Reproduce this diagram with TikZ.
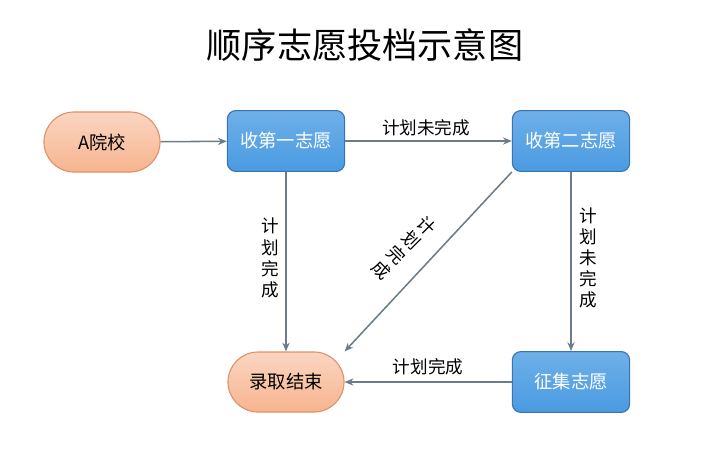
\documentclass[tikz,border=0pt]{standalone}
\usepackage{fontspec}
\setmainfont{Noto Sans CJK SC}
\usetikzlibrary{arrows.meta, positioning}
\definecolor{cblue}{HTML}{4A9BE2}
\definecolor{cbluedark}{HTML}{3B73B5}
\definecolor{cpeach}{HTML}{F7B48F}
\definecolor{corange}{HTML}{E0916C}
\definecolor{cgrey}{HTML}{6C7D88}
\tikzset{
  every picture/.style={line width=1.1pt},
  box/.style={draw=cbluedark, top color=cblue!80!white, bottom color=cblue, rounded corners=6pt, text=white, minimum width=2.93cm, minimum height=1.52cm, font=\fontsize{13}{15}\selectfont, line width=0.8pt},
  ends/.style={draw=corange, top color=cpeach!55!white, bottom color=cpeach, rounded corners=0.75cm, text=black, minimum width=2.9cm, minimum height=1.5cm, font=\fontsize{13}{15}\selectfont, line width=0.8pt},
  arrow/.style={-{Stealth[length=2.2mm, width=1.8mm]}, draw=cgrey, line width=1.1pt},
  title/.style={font=\fontsize{25}{28}\selectfont},
  note/.style={font=\fontsize{12.5}{15}\selectfont, align=center, inner sep=1pt},
}

\begin{document}
\begin{tikzpicture}[x=0.025cm, y=-0.025cm]
  \useasboundingbox (0,0) rectangle (714,449);
  % ---- title
  \node[title] (head) at (365,45) {顺序志愿投档示意图};
  % ---- nodes
  \node[ends] (school) at (102,142) {A院校};
  \node[box] (first) at (286,141) {收第一志愿};
  \node[box] (second) at (571,141) {收第二志愿};
  \node[box] (extra) at (571,382) {征集志愿};
  \node[ends] (done) at (286,382) {录取结束};
  % ---- connectors
  \draw[arrow] (school) -- (first);
  \draw[arrow] (first) -- (second);
  \draw[arrow] (first) -- (done);
  \draw[arrow] (second) -- (extra);
  \draw[arrow] (extra) -- (done);
  \draw[arrow] (second.south west) -- (done.north east);
  % ---- labels
  \node[note] (lfs) at (426,128) {计划未完成};
  \node[note] (lfd) at (270,258) {计\\划\\完\\成};
  \node[note] (lse) at (588,258) {计\\划\\未\\完\\成};
  \node[note] (led) at (428,367) {计划完成};
  \node[note, rotate=-45] (lsd) at (404,248) {计\\划\\完\\成};
\end{tikzpicture}
\end{document}
